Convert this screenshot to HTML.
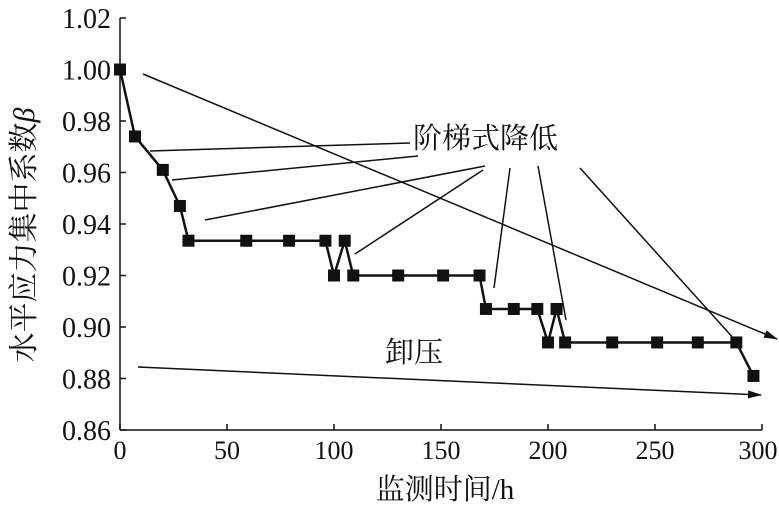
<!DOCTYPE html>
<html><head><meta charset="utf-8"><style>
body{margin:0;background:#fff;width:779px;height:507px;overflow:hidden}
svg text{font-family:"Liberation Serif","Noto Serif CJK SC",serif;fill:#111}
</style></head><body>
<svg width="779" height="507" viewBox="0 0 779 507">
<defs><marker id="ah" markerWidth="14" markerHeight="8" refX="13" refY="4" orient="auto" markerUnits="userSpaceOnUse"><path d="M0,0 L14,4 L0,8 Z" fill="#111"/></marker></defs>
<g id="axes"></g>
<g id="series"></g>
<g stroke="#111" stroke-width="1.5" fill="none">
<line x1="150" y1="151" x2="410" y2="143"/>
<line x1="172" y1="180" x2="418" y2="156"/>
<line x1="205" y1="220" x2="485" y2="166"/>
<line x1="355" y1="254" x2="483" y2="170"/>
<line x1="494" y1="288" x2="510" y2="168"/>
<line x1="566" y1="320" x2="538" y2="166"/>
<line x1="580" y1="168" x2="735" y2="340"/>
<line x1="143" y1="74" x2="777" y2="339" marker-end="url(#ah)"/>
<line x1="138" y1="367" x2="761" y2="395" marker-end="url(#ah)"/>
</g>
<text x="413" y="148" font-size="29">阶梯式降低</text>
<text x="385" y="362" font-size="29">卸压</text>
<text x="445" y="499" font-size="29" text-anchor="middle">监测时间/h</text>
<text transform="translate(34,235) rotate(-90)" font-size="30" text-anchor="middle">水平应力集中系数<tspan font-style="italic">β</tspan></text>
</svg>
<script>
const xTicks=[0,50,100,150,200,250,300];
const yTicks=[0.86,0.88,0.90,0.92,0.94,0.96,0.98,1.00,1.02];
const yTickLabels=["0.86","0.88","0.90","0.92","0.94","0.96","0.98","1.00","1.02"];
const times=[0,7,20,28,32,59,79,96,100,105,109,130,151,168,171,184,195,200,204,208,230,251,270,288,296];
const beta=[1.000,0.974,0.961,0.947,0.9335,0.9335,0.9335,0.9335,0.920,0.9335,0.920,0.920,0.920,0.920,0.907,0.907,0.907,0.894,0.907,0.894,0.894,0.894,0.894,0.894,0.881];
const X=v=>120+v*(642/300);
const Y=v=>430-(v-0.86)*(412/0.16);
const NS="http://www.w3.org/2000/svg";
function mk(t,a,p){const e=document.createElementNS(NS,t);for(const k in a)e.setAttribute(k,a[k]);p.appendChild(e);return e;}
const ax=document.getElementById('axes');
let e=mk('line',{x1:120,y1:Y(1.02),x2:120,y2:430,stroke:'#111','stroke-width':1.5},ax);


e=mk('line',{x1:120,y1:430,x2:X(300),y2:430,stroke:'#111','stroke-width':1.5},ax);


yTicks.forEach((v,i)=>{
 mk('line',{x1:120,y1:Y(v),x2:126,y2:Y(v),stroke:'#111','stroke-width':1.5},ax);
 const t=mk('text',{x:111,y:Y(v)+10,'font-size':28,'text-anchor':'end'},ax);
 t.textContent=yTickLabels[i];
 
 
});
xTicks.forEach(v=>{
 mk('line',{x1:X(v),y1:430,x2:X(v),y2:424,stroke:'#111','stroke-width':1.5},ax);
 const t=mk('text',{x:Math.min(X(v),758),y:459,'font-size':26,'text-anchor':'middle'},ax);
 t.textContent=String(v);
 
 
});
const sg=document.getElementById('series');
const pl=mk('polyline',{points:times.map((t,i)=>X(t)+','+Y(beta[i])).join(' '),fill:'none',stroke:'#111','stroke-width':2.5,'stroke-linejoin':'round'},sg);


times.forEach((t,i)=>{
 const r=mk('rect',{x:X(t)-6,y:Y(beta[i])-6,width:12,height:12,fill:'#111'},sg);
 
 
});
</script>
</body></html>
